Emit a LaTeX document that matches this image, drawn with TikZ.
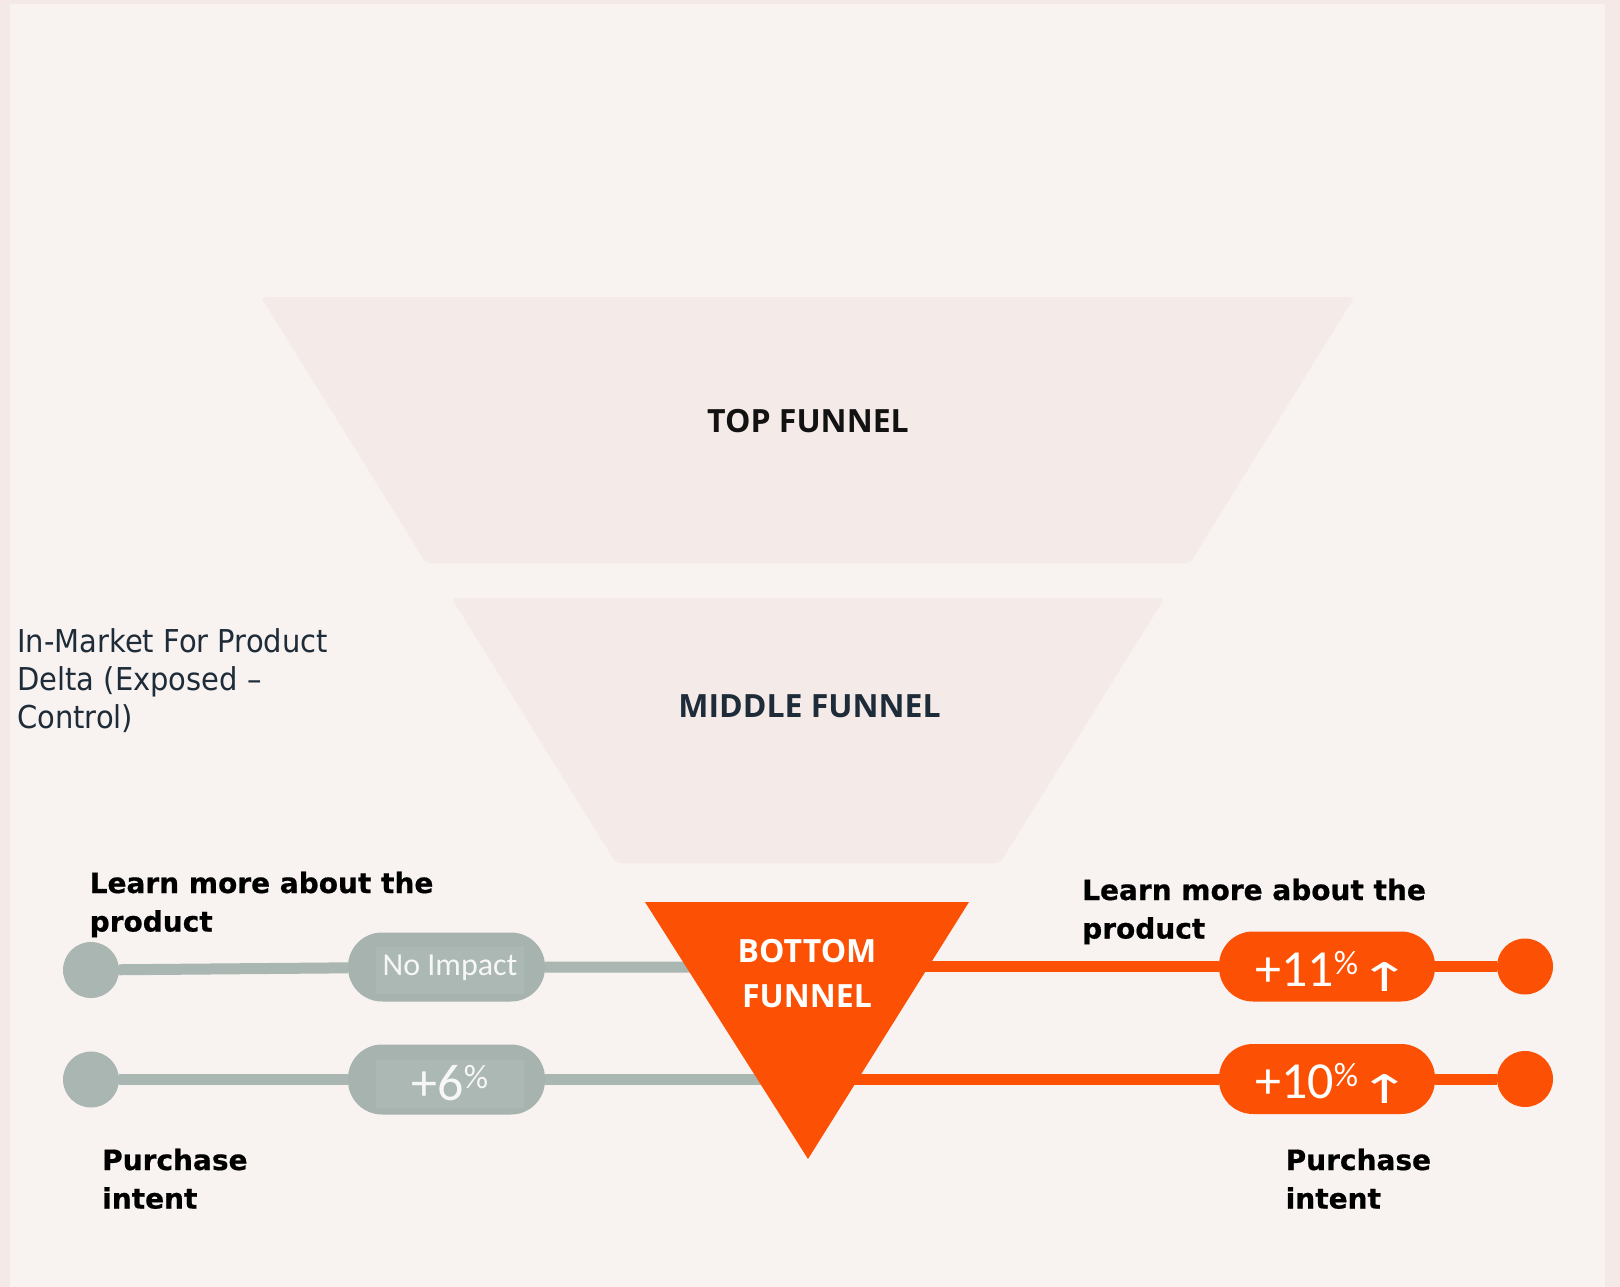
\documentclass[tikz,border=0pt]{standalone}
\usepackage{graphicx}
\usepackage{fontspec}
\setmainfont{DejaVu Sans}
\newfontfamily\funnelfont{Open Sans}
\newfontfamily\numfont{Carlito}
\newfontfamily\infofont[FakeStretch=0.92]{DejaVu Sans}
\newfontfamily\lblfont[FakeBold=0.6]{DejaVu Sans Bold}
\newfontfamily\arrowfont{DejaVu Sans}

\definecolor{framecol}{RGB}{244,233,231}
\definecolor{paper}{RGB}{248,243,240}
\definecolor{funnelfill}{RGB}{244,234,231}
\definecolor{orng}{RGB}{252,81,4}
\definecolor{grayc}{RGB}{169,182,177}
\definecolor{pillgray}{RGB}{166,179,174}
\definecolor{pillinner}{RGB}{172,184,179}
\definecolor{slate}{RGB}{30,43,56}
\definecolor{softwhite}{RGB}{246,247,246}

\pgfdeclarelayer{backdrop}
\pgfdeclarelayer{links}
\pgfsetlayers{backdrop,links,main}

\newcommand{\pct}{\raisebox{12pt}{\fontsize{34}{34}\selectfont\%}}
\newcommand{\uparr}{\hspace{12.5pt}\makebox[28pt][c]{\raisebox{-5pt}{\scalebox{1.75}[1.1]{\arrowfont\fontsize{36}{36}\selectfont ↑}}}\hspace{-14pt}}

\tikzset{
  funnelshape/.style={fill=funnelfill, rounded corners=4pt},
  funneltext/.style={font=\funnelfont\bfseries\fontsize{32}{45}\selectfont, inner sep=0pt, anchor=base},
  lbl/.style={font=\lblfont\fontsize{28}{38.5}\selectfont, text=black, inner sep=0pt, anchor=base west},
  dotnode/.style={circle, minimum size=56pt, inner sep=0pt},
  pill/.style={rectangle, rounded corners=34pt, minimum width=#1, minimum height=70pt, inner sep=0pt},
  pillbox/.style={rectangle, fill=pillinner, minimum width=148pt, minimum height=47pt, inner sep=0pt, text=softwhite},
  numtext/.style={font=\numfont\fontsize{52}{52}\selectfont},
  link/.style={line width=11pt}
}

\begin{document}
\begin{tikzpicture}[x=1pt, y=-1pt]
\useasboundingbox (0,0) rectangle (1620,1287);

\begin{pgfonlayer}{backdrop}
  % page and frame
  \fill[framecol] (0,0) rectangle (1620,1287);
  \fill[paper] (10,4) rectangle (1605,1287);
  % upper funnel stages
  \fill[funnelshape] (261,297) -- (1354.5,297) -- (1190,563) -- (426,563) -- cycle;
  \fill[funnelshape] (451.5,598) -- (1164.5,598) -- (1000,863) -- (616,863) -- cycle;
\end{pgfonlayer}

% stage titles
\node[funneltext, text=black!93] (top) at (808,432) {TOP FUNNEL};
\node[funneltext, text=slate] (mid) at (809.5,717) {MIDDLE FUNNEL};

% side note
\node[font=\infofont\fontsize{31.5}{38}\selectfont, text=slate, inner sep=0pt, anchor=base west] (info) at (17,652)
  {\begin{tabular}[t]{@{}l@{}}In-Market For Product\\Delta (Exposed –\\Control)\end{tabular}};

% end points of the metric rows
\node[dotnode, fill=grayc] (ld1) at (91,970) {};
\node[dotnode, fill=grayc] (ld2) at (91,1079.5) {};
\node[dotnode, fill=orng] (rd1) at (1525,966.5) {};
\node[dotnode, fill=orng] (rd2) at (1525,1079) {};

% metric pills, exposed minus control
\node[pill=197pt, fill=pillgray, minimum height=69pt] (lp1) at (446.5,967) {};
\node[pillbox, font=\numfont\fontsize{32}{32}\selectfont, text height=15pt, text depth=6pt] (lt1) at (450,970.5) {No Impact};
\node[pill=197pt, fill=pillgray] (lp2) at (446.5,1079.5) {};
\node[pillbox, minimum height=48pt, numtext, text height=34pt, text depth=2pt] (lt2) at (450,1084) {+6\pct};
\node[pill=216pt, fill=orng, numtext, text=white, text height=42pt, text depth=2pt] (rp1) at (1327,966.5) {+11\pct\uparr};
\node[pill=216pt, fill=orng, numtext, text=white, text height=41pt, text depth=2pt] (rp2) at (1327,1079) {+10\pct\uparr};

% bottom stage
\coordinate (bfl1) at (808,967);
\coordinate (bfl2) at (808,1079.5);
\coordinate (bfr1) at (808,966.5);
\coordinate (bfr2) at (808,1079);
\fill[orng] (645,902) -- (969,902) -- (808,1159) -- cycle;
\node[funneltext, text=white] (bf) at (807,962)
  {\begin{tabular}[t]{@{}c@{}}BOTTOM\\FUNNEL\end{tabular}};

% connectors
\begin{pgfonlayer}{links}
  \draw[link, grayc] (ld1) -- (lp1) -- (bfl1);
  \draw[link, grayc] (ld2) -- (lp2) -- (bfl2);
  \draw[link, orng] (bfr1) -- (rp1) -- (rd1);
  \draw[link, orng] (bfr2) -- (rp2) -- (rd2);
\end{pgfonlayer}

% row labels
\node[lbl] (ll1) at (89.5,893) {\begin{tabular}[t]{@{}l@{}}Learn more about the\\product\end{tabular}};
\node[lbl] (ll2) at (102,1170) {\begin{tabular}[t]{@{}l@{}}Purchase\\intent\end{tabular}};
\node[lbl] (rl1) at (1082,900) {\begin{tabular}[t]{@{}l@{}}Learn more about the\\product\end{tabular}};
\node[lbl] (rl2) at (1285.5,1170) {\begin{tabular}[t]{@{}l@{}}Purchase\\intent\end{tabular}};
\end{tikzpicture}
\end{document}
